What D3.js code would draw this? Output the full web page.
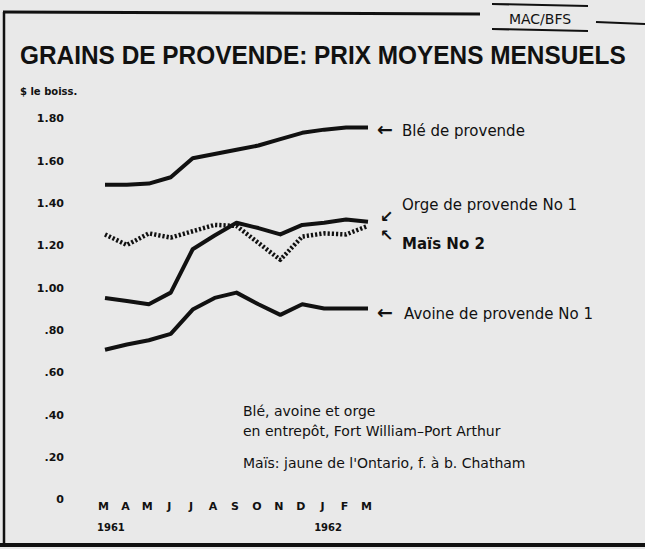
<!DOCTYPE html>
<html>
<head>
<meta charset="utf-8">
<script src="https://cdn.jsdelivr.net/npm/d3@7"></script>
<style>
  body { margin: 0; background: #e9e9e9; }
  svg { display: block; }
  text { font-family: "DejaVu Sans", sans-serif; fill: #111; }
</style>
</head>
<body>
<div id="chart"></div>
<script>
// Data (dollars per bushel), March 1961 to March 1962
let months = ['M', 'A', 'M', 'J', 'J', 'A', 'S', 'O', 'N', 'D', 'J', 'F', 'M'];
let yTicks = [0, 0.2, 0.4, 0.6, 0.8, 1.0, 1.2, 1.4, 1.6, 1.8];
let ble = [1.485, 1.485, 1.49, 1.52, 1.61, 1.63, 1.65, 1.67, 1.70, 1.73, 1.745, 1.755, 1.755];
let orge = [0.95, 0.935, 0.92, 0.975, 1.18, 1.245, 1.305, 1.28, 1.25, 1.295, 1.305, 1.32, 1.31];
let mais = [1.25, 1.20, 1.255, 1.235, 1.265, 1.295, 1.29, 1.21, 1.13, 1.24, 1.255, 1.25, 1.29];
let avoine = [0.705, 0.73, 0.75, 0.78, 0.895, 0.95, 0.975, 0.92, 0.87, 0.92, 0.90, 0.90, 0.90];

let W = 645;
let H = 549;

let svg = d3.select('#chart').append('svg').attr('width', W).attr('height', H);

// Scales
let x = d3.scalePoint().domain(d3.range(months.length)).range([105, 368]);
let y = d3.scaleLinear().domain([0, 1.8]).range([499, 118]);

// Frame
svg.append('line').attr('x1', 4).attr('y1', 12).attr('x2', 4).attr('y2', 545)
    .attr('stroke', '#111').attr('stroke-width', 2.5);
svg.append('line').attr('x1', 3).attr('y1', 12).attr('x2', 480).attr('y2', 14)
    .attr('stroke', '#111').attr('stroke-width', 3);
svg.append('line').attr('x1', 0).attr('y1', 545).attr('x2', W).attr('y2', 545)
    .attr('stroke', '#111').attr('stroke-width', 4);
svg.append('line').attr('x1', 492).attr('y1', 4).attr('x2', 588).attr('y2', 6)
    .attr('stroke', '#111').attr('stroke-width', 2);
svg.append('line').attr('x1', 492).attr('y1', 29).attr('x2', 588).attr('y2', 31)
    .attr('stroke', '#111').attr('stroke-width', 2);
svg.append('line').attr('x1', 596).attr('y1', 22).attr('x2', W).attr('y2', 24)
    .attr('stroke', '#111').attr('stroke-width', 2);
svg.append('text').attr('x', 540).attr('y', 24).attr('text-anchor', 'middle')
    .style('font-size', '14px').text('MAC/BFS');

// Title, squeezed horizontally to span the same width as in the original
let title = svg.append('text').attr('x', 0).attr('y', 0)
    .style('font-family', '"Liberation Sans", Arial, sans-serif')
    .style('font-weight', 'bold').style('font-size', '26px')
    .text('GRAINS DE PROVENDE: PRIX MOYENS MENSUELS');
let tw = title.node().getComputedTextLength();
title.attr('transform', `translate(20,64) scale(${606 / tw},1)`);

svg.append('text').attr('x', 20).attr('y', 95)
    .style('font-weight', 'bold').style('font-size', '10px')
    .text('$ le boiss.');

// Y axis labels
let yAxis = d3.axisLeft(y).tickValues(yTicks).tickSize(0)
    .tickFormat(d => d === 0 ? '0' : (d >= 1 ? d3.format('.2f')(d) : d3.format('.2f')(d).slice(1)));
let yg = svg.append('g').attr('transform', 'translate(64,0)').call(yAxis);
yg.select('.domain').remove();
yg.selectAll('text').attr('x', 0).attr('dy', '0.35em')
    .style('font-family', '"DejaVu Sans", sans-serif')
    .style('font-weight', 'bold').style('font-size', '11px').attr('fill', '#111');

// X axis labels (months)
let xAxis = d3.axisBottom(x).tickSize(0).tickFormat(i => months[i]);
let xg = svg.append('g').attr('transform', 'translate(-2,500)').call(xAxis);
xg.select('.domain').remove();
xg.selectAll('text').attr('y', 2).attr('dy', '0.71em')
    .style('font-family', '"DejaVu Sans", sans-serif')
    .style('font-weight', 'bold').style('font-size', '11px').attr('fill', '#111');

svg.append('text').attr('x', x(0) - 8).attr('y', 531)
    .style('font-weight', 'bold').style('font-size', '10px').text('1961');
svg.append('text').attr('x', x(10) - 10).attr('y', 531)
    .style('font-weight', 'bold').style('font-size', '10px').text('1962');

// Lines
let line = d3.line().x((d, i) => x(i)).y(d => y(d)).curve(d3.curveLinear);

let series = [
  { values: ble, dash: null },
  { values: orge, dash: null },
  { values: avoine, dash: null },
  { values: mais, dash: '2.2,2' }
];

series.forEach(s => {
  svg.append('path').datum(s.values)
      .attr('d', line)
      .attr('fill', 'none')
      .attr('stroke', '#111')
      .attr('stroke-width', s.dash ? 4.5 : 4)
      .attr('stroke-linejoin', 'round')
      .attr('stroke-dasharray', s.dash);
});

// Series labels
let lab = (xx, yy, t, size) => svg.append('text').attr('x', xx).attr('y', yy)
    .style('font-size', (size || 15) + 'px').text(t);

lab(377, 136, '←', 19).style('font-weight', 'bold');
lab(402, 136, 'Blé de provende');
lab(402, 210, 'Orge de provende No 1');
lab(380, 222, '↙', 16).style('font-weight', 'bold');
lab(380, 241, '↖', 16).style('font-weight', 'bold');
lab(402, 249, 'Maïs No 2').style('font-weight', 'bold');
lab(377, 319, '←', 19).style('font-weight', 'bold');
lab(404, 319, 'Avoine de provende No 1');

// Notes
lab(243, 416, 'Blé, avoine et orge', 14);
lab(243, 436, 'en entrepôt, Fort William–Port Arthur', 14);
lab(243, 468, 'Maïs: jaune de l\'Ontario, f. à b. Chatham', 14);
</script>
</body>
</html>
